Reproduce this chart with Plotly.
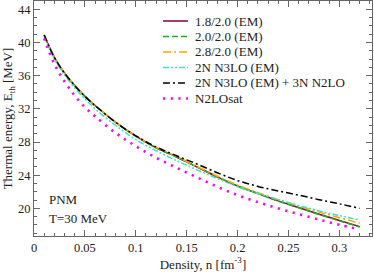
import plotly.graph_objects as go

density = [0.01, 0.02, 0.03, 0.04, 0.05, 0.06, 0.08, 0.10, 0.12, 0.14, 0.16,
           0.18, 0.20, 0.22, 0.24, 0.26, 0.28, 0.30, 0.32]

em_18 = [40.9, 38.2, 36.3, 34.8, 33.5, 32.4, 30.4, 28.7, 27.3, 26.2, 25.0,
         23.8, 22.7, 21.8, 20.9, 20.1, 19.3, 18.55, 17.8]
em_20 = [40.9, 38.2, 36.3, 34.8, 33.5, 32.4, 30.4, 28.7, 27.3, 26.2, 25.0,
         23.8, 22.7, 21.78, 20.88, 20.07, 19.27, 18.5, 17.75]
em_28 = [40.9, 38.2, 36.3, 34.8, 33.5, 32.4, 30.4, 28.75, 27.35, 26.25, 25.05,
         23.9, 22.8, 21.9, 21.05, 20.3, 19.55, 18.88, 18.2]
n3lo = [40.8, 38.0, 36.1, 34.5, 33.2, 32.0, 30.0, 28.3, 26.95, 25.75, 24.65,
        23.6, 22.6, 21.8, 21.05, 20.35, 19.7, 19.12, 18.6]
n3lo_3n = [40.9, 38.2, 36.3, 34.8, 33.5, 32.4, 30.4, 28.75, 27.4, 26.35, 25.35,
           24.3, 23.35, 22.65, 22.1, 21.6, 21.05, 20.55, 20.0]
n2losat = [40.5, 37.4, 35.3, 33.6, 32.2, 31.1, 29.1, 27.5, 26.1, 24.9, 23.75,
           22.6, 21.6, 20.75, 20.0, 19.3, 18.65, 18.02, 17.45]

x_tickvals = [0, 0.05, 0.1, 0.15, 0.2, 0.25, 0.3]
x_ticktext = ["0", "0.05", "0.1", "0.15", "0.2", "0.25", "0.3"]
y_tickvals = [20, 24, 28, 32, 36, 40, 44]
y_ticktext = ["20", "24", "28", "32", "36", "40", "44"]

series = [
    ("1.8/2.0 (EM)", em_18, "#800040", "solid", 1.5),
    ("2.0/2.0 (EM)", em_20, "#22aa22", "6px,3px", 1.5),
    ("2.8/2.0 (EM)", em_28, "#ffa500", "8px,3px,2px,3px", 1.5),
    ("2N N3LO (EM)", n3lo, "#40e0d0", "6px,2px,2px,2px,2px,2px", 1.5),
    ("2N N3LO (EM) + 3N N2LO", n3lo_3n, "#000000", "7px,3px,2px,3px", 1.5),
    ("N2LOsat", n2losat, "#ff00ff", "2.2px,5.5px", 2.6),
]

W, H = 374, 272
ML, MR, MT, MB = 34, 2, 1, 36
PW, PH = W - ML - MR, H - MT - MB


def px_x(p):
    return (p - ML) / PW


def px_y(p):
    return (H - MB - p) / PH


fig = go.Figure()
for name, vals, color, dash, w in series:
    fig.add_trace(go.Scatter(x=density, y=vals, name=name, mode="lines", showlegend=False,
                             line=dict(color=color, dash=dash, width=w, shape="spline")))

font_family = "Liberation Serif"

# manual legend (line samples + labels) in paper coordinates
shapes = []
annotations = []
for i, (name, vals, color, dash, w) in enumerate(series):
    yy = px_y(21 + 15.5 * i)
    shapes.append(dict(type="line", xref="paper", yref="paper",
                       x0=px_x(163), x1=px_x(188), y0=yy, y1=yy,
                       line=dict(color=color, dash=dash, width=w)))
    annotations.append(dict(text=name, x=px_x(193), y=yy, xref="paper", yref="paper",
                            xanchor="left", yanchor="middle", showarrow=False,
                            font=dict(family=font_family, size=13, color="#222222")))

annotations += [
    dict(text="PNM", x=px_x(47), y=px_y(199), xref="paper", yref="paper",
         xanchor="left", yanchor="middle", showarrow=False,
         font=dict(family=font_family, size=13, color="#222222")),
    dict(text="T=30 MeV", x=px_x(47), y=px_y(218), xref="paper", yref="paper",
         xanchor="left", yanchor="middle", showarrow=False,
         font=dict(family=font_family, size=13, color="#222222")),
]

axis_common = dict(
    showline=True, linecolor="#666666", linewidth=1.2, mirror="ticks",
    ticks="inside", ticklen=6, tickcolor="#666666", tickwidth=1.2,
    showgrid=False, zeroline=False, automargin=False,
    tickfont=dict(family=font_family, size=12.5, color="#222222"),
)

fig.update_layout(
    width=W, height=H,
    margin=dict(l=ML, r=MR, t=MT, b=MB),
    paper_bgcolor="white", plot_bgcolor="white",
    font=dict(family=font_family, size=13, color="#222222"),
    showlegend=False,
    xaxis=dict(range=[0, 0.332], tickvals=x_tickvals, ticktext=x_ticktext,
               minor=dict(dtick=0.01, ticks="inside", ticklen=3, tickcolor="#666666"),
               title=dict(text="Density, n [fm<sup>-3</sup>]", standoff=2,
                          font=dict(family=font_family, size=13)),
               **axis_common),
    yaxis=dict(range=[16.67, 45], tickvals=y_tickvals, ticktext=y_ticktext,
               minor=dict(dtick=1, ticks="inside", ticklen=3, tickcolor="#666666"),
               title=dict(text="Thermal energy, E<sub>th</sub> [MeV]", standoff=4,
                          font=dict(family=font_family, size=13)),
               **axis_common),
    shapes=shapes,
    annotations=annotations,
)

fig.write_html("out.html", config={"displayModeBar": False},
               post_script="document.body.style.margin='0';document.body.style.overflow='hidden';")
